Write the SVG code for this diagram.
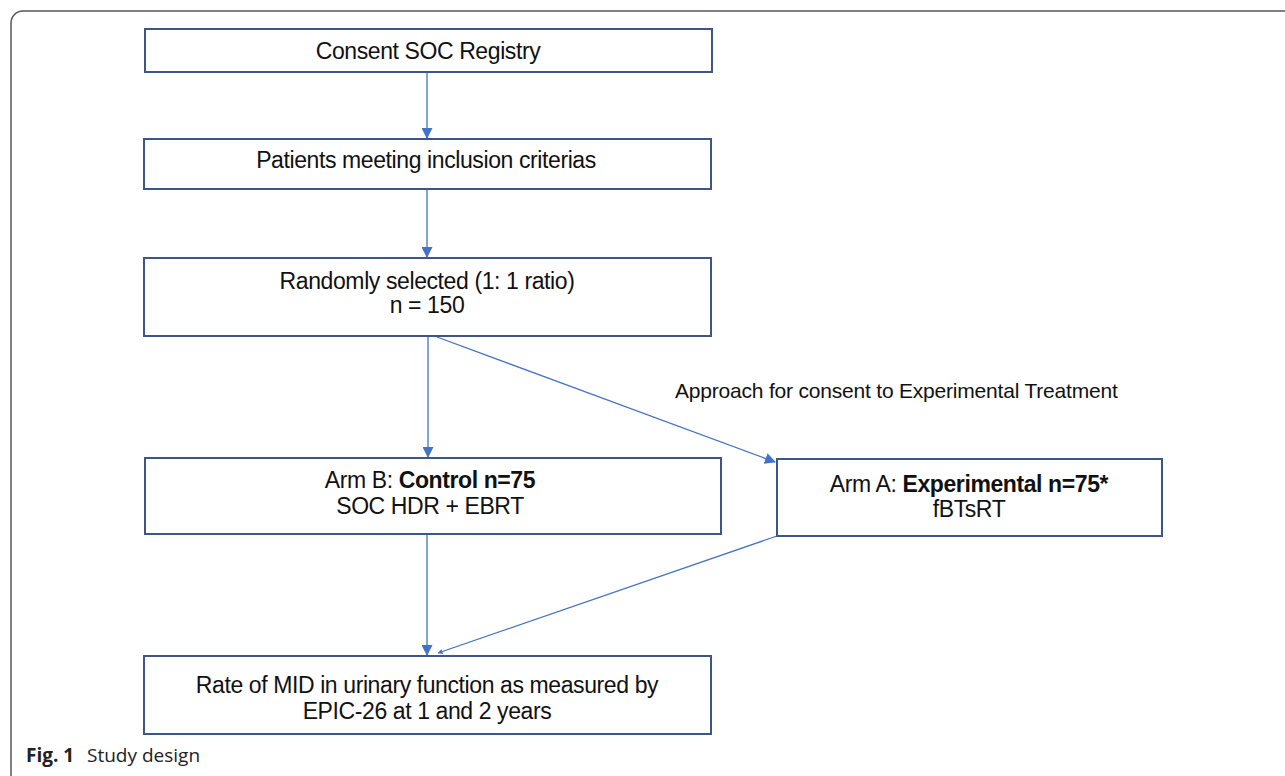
<svg xmlns="http://www.w3.org/2000/svg" width="1285" height="776" viewBox="0 0 1285 776">
<defs>
<marker id="ah" markerWidth="11" markerHeight="11" refX="10" refY="5.5" orient="auto" markerUnits="userSpaceOnUse">
<path d="M0,0 L11,5.5 L0,11 Z" fill="#4472c4"/>
</marker>
<marker id="ahs" markerWidth="5" markerHeight="5" refX="4.5" refY="2.5" orient="auto" markerUnits="userSpaceOnUse">
<path d="M0,0 L5,2.5 L0,5 Z" fill="#4472c4"/>
</marker>
<style>
.box{fill:#fff;stroke:#3d5689;stroke-width:2}
.t{font-family:"Liberation Sans",Arial,sans-serif;font-size:23px;fill:#111;text-anchor:middle;letter-spacing:-0.4px}
.b{font-weight:bold}
.c{stroke:#4472c4;stroke-width:1.3;fill:none}
.lbl{font-family:"Liberation Sans",Arial,sans-serif;font-size:21px;fill:#111;letter-spacing:-0.2px}
.cap{font-family:"Open Sans","Noto Sans",sans-serif;font-size:19px;fill:#222}
</style>
</defs>
<rect width="1285" height="776" fill="#fff"/>
<rect x="11" y="11" width="1300" height="800" rx="12" ry="12" fill="none" stroke="#555" stroke-width="1.5"/>
<g id="connectors">
<line class="c" x1="427" y1="72" x2="427" y2="138" marker-end="url(#ah)"/>
<line class="c" x1="427" y1="190" x2="427" y2="257" marker-end="url(#ah)"/>
<line class="c" x1="428" y1="337" x2="428" y2="457" marker-end="url(#ah)"/>
<line class="c" x1="437" y1="337" x2="775" y2="462" marker-end="url(#ah)"/>
<line class="c" x1="427" y1="535" x2="427" y2="655" marker-end="url(#ah)"/>
<line class="c" x1="777" y1="536" x2="438" y2="653" marker-end="url(#ahs)"/>
<text class="lbl" x="675" y="398">Approach for consent to Experimental Treatment</text>
</g>
<g id="n1">
<rect class="box" x="145" y="29" width="567" height="43"/>
<text class="t" x="428" y="59">Consent SOC Registry</text>
</g>
<g id="n2">
<rect class="box" x="144" y="139" width="567" height="50"/>
<text class="t" x="426" y="168">Patients meeting inclusion criterias</text>
</g>
<g id="n3">
<rect class="box" x="144" y="258" width="567" height="78"/>
<text class="t" x="427" y="289">Randomly selected (1: 1 ratio)</text>
<text class="t" x="427" y="313">n = 150</text>
</g>
<g id="n4">
<rect class="box" x="145" y="458" width="576" height="76"/>
<text class="t" x="430" y="488">Arm B: <tspan class="b">Control n=75</tspan></text>
<text class="t" x="430" y="514">SOC HDR + EBRT</text>
</g>
<g id="n5">
<rect class="box" x="777" y="459" width="385" height="77"/>
<text class="t" x="969" y="492">Arm A: <tspan class="b">Experimental n=75*</tspan></text>
<text class="t" x="969" y="517">fBTsRT</text>
</g>
<g id="n6">
<rect class="box" x="144" y="656" width="567" height="78"/>
<text class="t" x="427" y="693">Rate of MID in urinary function as measured by</text>
<text class="t" x="427" y="719">EPIC-26 at 1 and 2 years</text>
</g>
<text class="cap" x="26" y="762"><tspan font-weight="bold">Fig. 1</tspan><tspan x="87">Study design</tspan></text>
</svg>
